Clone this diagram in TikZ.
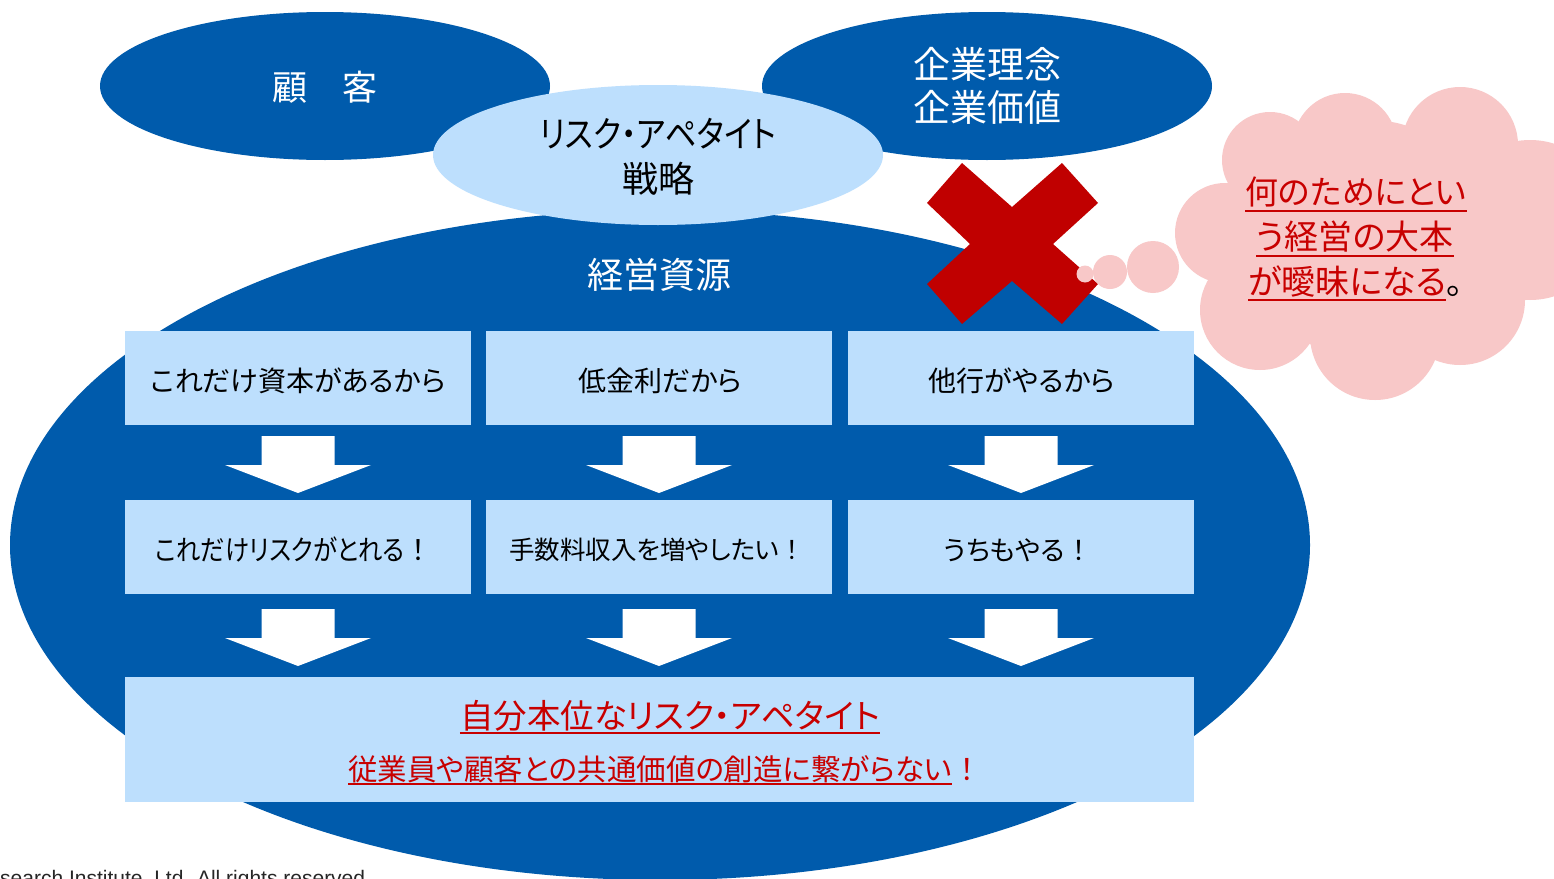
\documentclass[tikz,border=0pt]{standalone}
\usepackage{fontspec}
\setmainfont{Noto Sans CJK JP}[RawFeature=+palt]
\newfontfamily\jpfull{Noto Sans CJK JP}
\newfontfamily\jpnarrow{Noto Sans CJK JP}[RawFeature=+palt,FakeStretch=0.87]
\newfontfamily\footfont{Liberation Sans}
\newcommand{\fwbang}{{\jpfull ！}}
\usetikzlibrary{shapes.geometric,calc}
\definecolor{mainblue}{RGB}{0,91,172}
\definecolor{lightblue}{RGB}{189,223,253}
\definecolor{cloudpink}{RGB}{248,200,200}
\definecolor{crossred}{RGB}{192,0,0}
\definecolor{textred}{RGB}{200,0,0}
\tikzset{
  bigell/.style={ellipse,fill=mainblue,inner sep=0pt,minimum width=1300pt,minimum height=670pt},
  topell/.style={ellipse,fill=mainblue,inner sep=0pt,minimum width=450pt,minimum height=148pt},
  riskell/.style={ellipse,fill=lightblue,inner sep=0pt,minimum width=450pt,minimum height=140pt},
  rbox/.style={rectangle,fill=lightblue,inner sep=0pt,minimum width=346pt,minimum height=94pt},
  lbl/.style={inner sep=0pt,anchor=base,text=black},
  wlbl/.style={inner sep=0pt,anchor=base,text=white},
  redtxt/.style={inner sep=0pt,anchor=base,text=textred},
  ulred/.style={draw=textred,line width=2pt},
  puff/.style={fill=cloudpink},
  dnarrow/.pic={\fill[white] (-36.5,-26.5) -- (36.5,-26.5) -- (36.5,2.5) -- (73,2.5) -- (0,30.5) -- (-73,2.5) -- (-36.5,2.5) -- cycle;}
}
\begin{document}
\begin{tikzpicture}[x=1pt,y=-1pt]
\useasboundingbox (0,0) rectangle (1554,878);
\fill[white] (0,0) rectangle (1554,878);

% main resource ellipse
\node[bigell] (res) at (660,545) {};
% top ellipses
\node[topell] (cust) at (325,86) {};
\node[topell] (phil) at (987,86) {};
\node[riskell] (risk) at (658,155) {};

\node[wlbl,font=\fontsize{35}{40}\selectfont] (custtxt) at (325,100) {顧　客};
\node[wlbl,font=\fontsize{37}{43}\selectfont] (phil1) at (987,78) {企業理念};
\node[wlbl,font=\fontsize{37}{43}\selectfont] (phil2) at (987,121) {企業価値};
\node[lbl,font=\jpnarrow\fontsize{36}{40}\selectfont] (risk1) at (658,147) {リスク・アペタイト};
\node[lbl,font=\fontsize{36}{40}\selectfont] (risk2) at (658,192) {戦略};
\node[wlbl,font=\fontsize{36}{40}\selectfont] (restxt) at (659,288) {経営資源};

% boxes
\node[rbox] (r1a) at (298,378) {};
\node[rbox] (r1b) at (659,378) {};
\node[rbox] (r1c) at (1021,378) {};
\node[rbox] (r2a) at (298,547) {};
\node[rbox] (r2b) at (659,547) {};
\node[rbox] (r2c) at (1021,547) {};
\node[rbox,minimum width=1069pt,minimum height=125pt] (fin) at (659.5,739.5) {};

\node[lbl,font=\fontsize{28}{32}\selectfont] (t1a) at (298,391) {これだけ資本があるから};
\node[lbl,font=\fontsize{28}{32}\selectfont] (t1b) at (660,391) {低金利だから};
\node[lbl,font=\fontsize{28}{32}\selectfont] (t1c) at (1022,391) {他行がやるから};
\node[lbl,font=\jpnarrow\fontsize{28}{32}\selectfont] (t2a) at (294,560) {これだけリスクがとれる\fwbang};
\node[lbl,font=\fontsize{25.5}{30}\selectfont] (t2b) at (657,559) {手数料収入を増やしたい\fwbang};
\node[lbl,font=\fontsize{27}{32}\selectfont] (t2c) at (1018,560) {うちもやる\fwbang};

% arrows
\pic at ($(r1a.south)!0.5!(r2a.north)$) {dnarrow};
\pic at ($(r1b.south)!0.5!(r2b.north)$) {dnarrow};
\pic at ($(r1c.south)!0.5!(r2c.north)$) {dnarrow};
\pic at ($(r2a.south)!0.5!(r2a.south|-fin.north)$) {dnarrow};
\pic at ($(r2b.south)!0.5!(r2b.south|-fin.north)$) {dnarrow};
\pic at ($(r2c.south)!0.5!(r2c.south|-fin.north)$) {dnarrow};

% conclusion text
\node[redtxt,font=\fontsize{33.5}{40}\selectfont] (fin1) at (670,728) {自分本位なリスク・アペタイト};
\draw[ulred] ($(fin1.base west)+(0,5)$) -- ($(fin1.base east)+(0,5)$);
\node[redtxt,font=\fontsize{29.5}{34}\selectfont,anchor=base west] (fin2) at (348,780) {従業員や顧客との共通価値の創造に繋がらない};
\node[redtxt,font=\jpfull\fontsize{29.5}{34}\selectfont,anchor=base west] (fin2x) at (fin2.base east) {！};
\draw[ulred] ($(fin2.base west)+(0,4)$) -- ($(fin2.base east)+(0,4)$);

% cross
\fill[crossred] (962,163) -- (1012,207) -- (1062,163) -- (1098,203) -- (1053,244) -- (1098,284)
  -- (1062,324) -- (1012,281) -- (962,324) -- (927,284) -- (970,244) -- (927,203) -- cycle;

% thought cloud
\fill[puff] (1225,233) circle[radius=50];
\fill[puff] (1270,160) circle[radius=48];
\fill[puff] (1345,145) circle[radius=52];
\fill[puff] (1460,145) circle[radius=58];
\fill[puff] (1530,220) circle[radius=80];
\fill[puff] (1460,300) circle[radius=65];
\fill[puff] (1375,335) circle[radius=65];
\fill[puff] (1260,310) circle[radius=60];
\fill[puff] (1370,240) circle[radius=120];
\fill[puff] (1085,274) circle[radius=8.5];
\fill[puff] (1110,272) circle[radius=17];
\fill[puff] (1153,267) circle[radius=26];

\node[redtxt,font=\fontsize{33}{40}\selectfont] (c1) at (1356,204) {何のためにとい};
\draw[ulred] ($(c1.base west)+(0,7)$) -- ($(c1.base east)+(0,7)$);
\node[redtxt,font=\fontsize{34}{40}\selectfont] (c2) at (1355,249) {う経営の大本};
\draw[ulred] ($(c2.base west)+(0,7)$) -- ($(c2.base east)+(0,7)$);
\node[redtxt,font=\fontsize{34}{40}\selectfont,anchor=base west] (c3) at (1248,294) {が曖昧になる};
\node[lbl,font=\fontsize{34}{40}\selectfont,anchor=base west] (c3x) at (c3.base east) {。};
\draw[ulred] ($(c3.base west)+(0,6)$) -- ($(c3.base east)+(0,6)$);

% footer
\node[lbl,anchor=base west,text=black!85,font=\footfont\fontsize{21}{24}\selectfont] (foot) at (0,885) {search Institute, Ltd. All rights reserved.};
\end{tikzpicture}
\end{document}
